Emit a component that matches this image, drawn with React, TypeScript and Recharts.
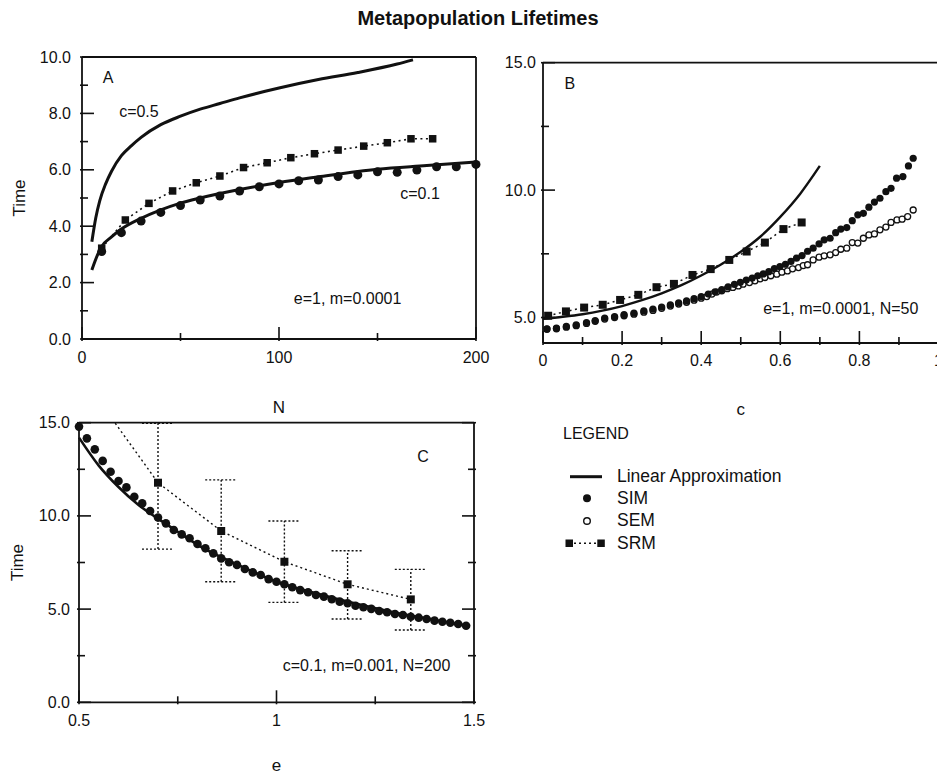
import React from 'react';
import { ComposedChart, Line, Scatter, XAxis, YAxis, ErrorBar, ReferenceDot } from 'recharts';

const FONT = '"Liberation Sans", Arial, Helvetica, sans-serif';
const INK = '#111';

// ---- A: lifetime against number of patches N (e=1, m=0.0001)
const aLinearC05: [number, number][] = [
  [5, 3.45], [7, 4.3], [9, 4.9], [12, 5.5], [15, 5.95], [20, 6.5], [25, 6.85], [30, 7.15],
  [40, 7.6], [50, 7.9], [60, 8.15], [70, 8.35], [80, 8.55], [100, 8.9], [120, 9.2],
  [140, 9.45], [160, 9.75], [168, 9.9],
];
const aLinearC01: [number, number][] = [
  [5, 2.45], [8, 3.0], [10, 3.28], [15, 3.62], [20, 3.9], [30, 4.28], [40, 4.58], [50, 4.82],
  [60, 5.0], [80, 5.3], [100, 5.55], [120, 5.75], [150, 6.02], [175, 6.15], [200, 6.28],
];
const aSimN = [10, 20, 30, 40, 50, 60, 70, 80, 90, 100, 110, 120, 130, 140, 150, 160, 170, 180, 190, 200];
const aSimT = [3.1, 3.77, 4.18, 4.49, 4.73, 4.93, 5.07, 5.25, 5.4, 5.5, 5.61, 5.64, 5.76, 5.82, 5.93, 5.91, 5.99, 6.11, 6.11, 6.19];
const aSrmN = [10, 22, 34, 46, 58, 70, 82, 94, 106, 118, 130, 143, 155, 167, 178];
const aSrmT = [3.22, 4.22, 4.81, 5.25, 5.54, 5.78, 6.08, 6.25, 6.43, 6.57, 6.7, 6.84, 6.96, 7.1, 7.1];
const aYTicks = [0, 1, 2, 3, 4, 5, 6, 7, 8, 9, 10];
const aYMajor = [0, 2, 4, 6, 8, 10];
const aXTicks = [0, 50, 100, 150, 200];
const aXMajor = [0, 100, 200];

// ---- B: lifetime against colonisation rate c (e=1, m=0.0001, N=50)
const bLinear: [number, number][] = [
  [0, 4.95], [0.05, 5.03], [0.1, 5.13], [0.15, 5.27], [0.2, 5.45], [0.25, 5.68], [0.3, 5.95],
  [0.35, 6.27], [0.4, 6.65], [0.45, 7.08], [0.5, 7.58], [0.55, 8.18], [0.6, 8.95], [0.65, 9.85], [0.7, 10.95],
];
const bSim: [number, number][] = [
  [0.01, 4.56], [0.034, 4.58], [0.059, 4.65], [0.084, 4.71], [0.11, 4.8], [0.132, 4.88], [0.156, 4.98],
  [0.181, 5.04], [0.205, 5.11], [0.23, 5.17], [0.255, 5.26], [0.278, 5.33], [0.3, 5.41], [0.322, 5.5],
  [0.343, 5.58], [0.363, 5.65], [0.382, 5.74], [0.4, 5.82], [0.418, 5.92], [0.435, 6.01], [0.452, 6.1],
  [0.468, 6.2], [0.484, 6.3], [0.499, 6.38], [0.514, 6.47], [0.529, 6.55], [0.543, 6.64], [0.557, 6.71],
  [0.571, 6.8], [0.585, 6.92], [0.599, 7.0], [0.613, 7.09], [0.627, 7.2], [0.641, 7.33], [0.655, 7.43],
  [0.669, 7.6], [0.683, 7.72], [0.698, 7.89], [0.711, 8.05], [0.726, 8.11], [0.74, 8.33], [0.753, 8.47],
  [0.768, 8.53], [0.782, 8.8], [0.796, 9.03], [0.81, 9.09], [0.824, 9.33], [0.838, 9.53], [0.852, 9.68],
  [0.867, 9.94], [0.88, 10.07], [0.894, 10.47], [0.91, 10.53], [0.924, 10.95], [0.936, 11.25],
];
const bSem: [number, number][] = [
  [0.01, 4.54], [0.034, 4.56], [0.059, 4.62], [0.084, 4.68], [0.11, 4.77], [0.132, 4.85], [0.156, 4.94],
  [0.181, 5.0], [0.205, 5.07], [0.23, 5.13], [0.255, 5.21], [0.278, 5.28], [0.3, 5.36], [0.322, 5.45],
  [0.343, 5.53], [0.363, 5.6], [0.382, 5.68], [0.4, 5.76], [0.414, 5.82], [0.427, 5.92], [0.439, 6.0],
  [0.452, 6.05], [0.466, 6.13], [0.48, 6.18], [0.494, 6.24], [0.506, 6.31], [0.522, 6.37], [0.536, 6.44],
  [0.549, 6.52], [0.561, 6.57], [0.576, 6.64], [0.591, 6.7], [0.604, 6.78], [0.618, 6.83], [0.631, 6.91],
  [0.646, 6.96], [0.658, 7.04], [0.669, 7.07], [0.683, 7.26], [0.698, 7.37], [0.711, 7.42], [0.726, 7.46],
  [0.74, 7.55], [0.753, 7.68], [0.768, 7.72], [0.782, 7.94], [0.796, 7.92], [0.81, 8.11], [0.824, 8.24],
  [0.838, 8.28], [0.852, 8.44], [0.867, 8.55], [0.88, 8.73], [0.895, 8.83], [0.908, 8.86], [0.922, 8.96],
  [0.936, 9.22],
];
const bSrmC = [0.013, 0.058, 0.104, 0.151, 0.195, 0.241, 0.287, 0.331, 0.378, 0.424, 0.471, 0.515, 0.561, 0.608, 0.654];
const bSrmT = [5.07, 5.24, 5.39, 5.5, 5.69, 5.89, 6.19, 6.32, 6.67, 6.9, 7.26, 7.59, 7.94, 8.47, 8.73];
const bYTicks = [5, 7.5, 10, 12.5, 15];
const bYMajor = [5, 10, 15];
const bXTicks = [0, 0.1, 0.2, 0.3, 0.4, 0.5, 0.6, 0.7, 0.8, 0.9, 1];
const bXMajor = [0, 0.2, 0.4, 0.6, 0.8, 1];

// ---- C: lifetime against extinction rate e (c=0.1, m=0.001, N=200)
const cLinear: [number, number][] = [
  [0.5, 14.2], [0.55, 12.7], [0.6, 11.55], [0.65, 10.6], [0.7, 9.85], [0.75, 9.15], [0.8, 8.45],
  [0.9, 7.4], [1.0, 6.47], [1.1, 5.85], [1.2, 5.3], [1.3, 4.82], [1.4, 4.42], [1.49, 4.09],
];
const cSimE = [
  0.5, 0.52, 0.54, 0.56, 0.58, 0.6, 0.62, 0.64, 0.66, 0.68, 0.7, 0.72, 0.74, 0.76, 0.78, 0.8, 0.82,
  0.84, 0.86, 0.88, 0.9, 0.92, 0.94, 0.96, 0.98, 1.0, 1.02, 1.04, 1.06, 1.08, 1.1, 1.12, 1.14, 1.16,
  1.18, 1.2, 1.22, 1.24, 1.26, 1.28, 1.3, 1.32, 1.34, 1.36, 1.38, 1.4, 1.42, 1.44, 1.46, 1.48,
];
const cSimT = [
  14.79, 14.16, 13.57, 12.95, 12.37, 11.87, 11.53, 11.03, 10.67, 10.26, 9.91, 9.6, 9.24, 9.01, 8.8,
  8.49, 8.26, 7.99, 7.72, 7.51, 7.37, 7.15, 6.97, 6.83, 6.61, 6.47, 6.33, 6.17, 6.02, 5.9, 5.76, 5.67,
  5.53, 5.4, 5.31, 5.18, 5.1, 5.01, 4.9, 4.83, 4.74, 4.68, 4.59, 4.54, 4.47, 4.38, 4.32, 4.27, 4.2, 4.11,
];
// first SRM run sits above the frame; only its connecting segment shows
const cSrmE = [0.54, 0.7, 0.86, 1.02, 1.18, 1.34];
const cSrmT = [16.5, 11.78, 9.19, 7.54, 6.33, 5.52];
const cSrmHigh = [null, 14.97, 11.93, 9.73, 8.13, 7.13];
const cSrmLow = [null, 8.22, 6.47, 5.36, 4.47, 3.88];
const cYTicks = [0, 2.5, 5, 7.5, 10, 12.5, 15];
const cYMajor = [0, 5, 10, 15];
const cXTicks = [0.5, 0.75, 1, 1.25, 1.5];
const cXMajor = [0.5, 1, 1.5];

const pairs = (rows: [number, number][]) => rows.map(([x, y]) => ({ x, y }));
const zip = (xs: number[], ys: number[]) => xs.map((x, i) => ({ x, y: ys[i] }));

const cSrm = cSrmE.map((x, i) => {
  const hi = cSrmHigh[i];
  const lo = cSrmLow[i];
  return { x, y: cSrmT[i], err: hi == null || lo == null ? null : [cSrmT[i] - lo, hi - cSrmT[i]] };
});

type Side = 'left' | 'right' | 'top' | 'bottom';

// inward tick marks on all four frame sides, labels only on left/bottom majors
const frameTick = (side: Side, major: number[], fmt?: (v: number) => string, gap = 8) => (p: any) => {
  const v = p.payload.value as number;
  const big = major.some((m) => Math.abs(m - v) < 1e-6);
  const len = big ? 14 : 8;
  const dx = side === 'left' ? len : side === 'right' ? -len : 0;
  const dy = side === 'bottom' ? -len : side === 'top' ? len : 0;
  return (
    <g>
      <line x1={p.x} y1={p.y} x2={p.x + dx} y2={p.y + dy} stroke={INK} strokeWidth={1.6} />
      {big && fmt && side === 'left' && (
        <text x={p.x - gap} y={p.y} textAnchor="end" dominantBaseline="central" fontSize={16} fill={INK}>
          {fmt(v)}
        </text>
      )}
      {big && fmt && side === 'bottom' && (
        <text x={p.x} y={p.y + gap} textAnchor="middle" dominantBaseline="central" fontSize={16} fill={INK}>
          {fmt(v)}
        </text>
      )}
    </g>
  );
};

const disc = (r: number) => (p: any) => <circle cx={p.cx} cy={p.cy} r={r} fill={INK} />;
const ring = (r: number) => (p: any) => (
  <circle cx={p.cx} cy={p.cy} r={r} fill="#fff" stroke={INK} strokeWidth={1.3} />
);
const block = (s: number) => (p: any) => (
  <rect key={`sq-${p.index}`} x={p.cx - s / 2} y={p.cy - s / 2} width={s} height={s} fill={INK} />
);

const axisLine = { stroke: INK, strokeWidth: 1.8 };
const oneDecimal = (v: number) => v.toFixed(1);
const plain = (v: number) => String(v);

const note = (value: string, size = 16) => ({ value, position: 'center' as const, fontSize: size, fill: INK });

const timeLabel = (offset: number) => ({
  value: 'Time',
  angle: -90,
  position: 'insideLeft' as const,
  offset,
  fontSize: 17,
  fill: INK,
  style: { textAnchor: 'middle' },
});

const PanelA = () => (
  <ComposedChart width={500} height={380} margin={{ top: 7, right: 14, left: 22, bottom: 5 }}>
    <XAxis dataKey="x" type="number" domain={[0, 200]} ticks={aXTicks} interval={0} height={76}
      tickSize={0} tickLine={false} axisLine={axisLine} tick={frameTick('bottom', aXMajor, plain, 16)}
      label={{ value: 'N', position: 'insideBottom', offset: 2, fontSize: 17, fill: INK }} />
    <XAxis xAxisId="t" orientation="top" type="number" domain={[0, 200]} ticks={aXTicks} interval={0}
      height={10} tickSize={0} tickLine={false} axisLine={axisLine} tick={frameTick('top', aXMajor)} />
    <YAxis type="number" domain={[0, 10]} ticks={aYTicks} interval={0} width={60} tickSize={0}
      tickLine={false} axisLine={axisLine} tick={frameTick('left', aYMajor, oneDecimal, 9)}
      label={timeLabel(-3)} />
    <YAxis yAxisId="r" orientation="right" type="number" domain={[0, 10]} ticks={aYTicks} interval={0}
      width={10} tickSize={0} tickLine={false} axisLine={axisLine} tick={frameTick('right', aYMajor)} />
    <Line data={pairs(aLinearC05)} dataKey="y" type="monotone" stroke={INK} strokeWidth={3} dot={false} isAnimationActive={false} />
    <Line data={pairs(aLinearC01)} dataKey="y" type="monotone" stroke={INK} strokeWidth={3} dot={false} isAnimationActive={false} />
    <Line data={zip(aSrmN, aSrmT)} dataKey="y" type="linear" stroke={INK} strokeWidth={1.6}
      strokeDasharray="2 3.5" dot={block(7.5)} isAnimationActive={false} />
    <Scatter data={zip(aSimN, aSimT)} dataKey="y" shape={disc(4.5)} isAnimationActive={false} />
    <ReferenceDot x={13.2} y={9.27} r={0} stroke="none" label={note('A')} />
    <ReferenceDot x={28.9} y={8.06} r={0} stroke="none" label={note('c=0.5')} />
    <ReferenceDot x={171.6} y={5.18} r={0} stroke="none" label={note('c=0.1')} />
    <ReferenceDot x={134.8} y={1.45} r={0} stroke="none" label={note('e=1, m=0.0001')} />
  </ComposedChart>
);

const PanelB = () => (
  <ComposedChart width={460} height={380} margin={{ top: 12.7, right: 11.5, left: 3, bottom: 2 }}>
    <XAxis dataKey="x" type="number" domain={[0, 1]} ticks={bXTicks} interval={0} height={75}
      tickSize={0} tickLine={false} axisLine={axisLine} tick={frameTick('bottom', bXMajor, plain, 15)}
      label={{ value: 'c', position: 'insideBottom', offset: 3.5, fontSize: 17, fill: INK }} />
    <XAxis xAxisId="t" orientation="top" type="number" domain={[0, 1]} ticks={bXTicks} interval={0}
      height={10} tickSize={0} tickLine={false} axisLine={axisLine} tick={frameTick('top', bXMajor)} />
    <YAxis type="number" domain={[4, 15]} ticks={bYTicks} interval={0} width={40} tickSize={0}
      tickLine={false} axisLine={axisLine} tick={frameTick('left', bYMajor, oneDecimal, 5)} />
    <YAxis yAxisId="r" orientation="right" type="number" domain={[4, 15]} ticks={bYTicks} interval={0}
      width={10} tickSize={0} tickLine={false} axisLine={axisLine} tick={frameTick('right', bYTicks)} />
    <Line data={pairs(bLinear)} dataKey="y" type="monotone" stroke={INK} strokeWidth={2.4} dot={false} isAnimationActive={false} />
    <Line data={zip(bSrmC, bSrmT)} dataKey="y" type="linear" stroke={INK} strokeWidth={1.5}
      strokeDasharray="2 3.5" dot={block(8)} isAnimationActive={false} />
    <Scatter data={pairs(bSem)} dataKey="y" shape={ring(3)} isAnimationActive={false} />
    <Scatter data={pairs(bSim)} dataKey="y" shape={disc(3.6)} isAnimationActive={false} />
    <ReferenceDot x={0.068} y={14.2} r={0} stroke="none" label={note('B')} />
    <ReferenceDot x={0.753} y={5.38} r={0} stroke="none" label={note('e=1, m=0.0001, N=50')} />
  </ComposedChart>
);

const PanelC = () => (
  <ComposedChart width={500} height={378} margin={{ top: 12.7, right: 16, left: 19, bottom: 3.7 }}>
    <XAxis dataKey="x" type="number" domain={[0.5, 1.5]} ticks={cXTicks} interval={0} height={72}
      tickSize={0} tickLine={false} axisLine={axisLine} tick={frameTick('bottom', cXMajor, plain, 16)}
      label={{ value: 'e', position: 'insideBottom', offset: 3.3, fontSize: 17, fill: INK }} />
    <XAxis xAxisId="t" orientation="top" type="number" domain={[0.5, 1.5]} ticks={cXTicks} interval={0}
      height={10} tickSize={0} tickLine={false} axisLine={axisLine} tick={frameTick('top', cXMajor)} />
    <YAxis type="number" domain={[0, 15]} ticks={cYTicks} interval={0} width={60} tickSize={0}
      tickLine={false} axisLine={axisLine} tick={frameTick('left', cYMajor, oneDecimal, 7)}
      label={timeLabel(-2.3)} />
    <YAxis yAxisId="r" orientation="right" type="number" domain={[0, 15]} allowDataOverflow ticks={cYTicks}
      interval={0} width={10} tickSize={0} tickLine={false} axisLine={axisLine} tick={frameTick('right', cYMajor)} />
    <Line data={pairs(cLinear)} dataKey="y" type="monotone" stroke={INK} strokeWidth={2.6} dot={false} isAnimationActive={false} />
    <Line yAxisId="r" data={cSrm} dataKey="y" type="linear" stroke={INK} strokeWidth={1.4}
      strokeDasharray="2 3" dot={block(8)} isAnimationActive={false}>
      <ErrorBar dataKey="err" direction="y" width={16} stroke={INK} strokeWidth={1.4} strokeDasharray="2 2" />
    </Line>
    <Scatter data={zip(cSimE, cSimT)} dataKey="y" shape={disc(4.3)} isAnimationActive={false} />
    <ReferenceDot x={1.371} y={13.18} r={0} stroke="none" label={note('C')} />
    <ReferenceDot x={1.228} y={2.0} r={0} stroke="none" label={note('c=0.1, m=0.001, N=200')} />
  </ComposedChart>
);

const Legend = () => (
  <g fill={INK}>
    <text x={563} y={433} fontSize={16} dominantBaseline="central">LEGEND</text>
    <line x1={570} x2={602} y1={476.7} y2={476.7} stroke={INK} strokeWidth={3} />
    <text x={617} y={476} fontSize={17.5} dominantBaseline="central">Linear Approximation</text>
    <circle cx={587} cy={498.3} r={4} />
    <text x={617} y={498} fontSize={17.5} dominantBaseline="central">SIM</text>
    <circle cx={587} cy={521} r={3.3} fill="#fff" stroke={INK} strokeWidth={1.4} />
    <text x={617} y={520} fontSize={17.5} dominantBaseline="central">SEM</text>
    <rect x={565.5} y={539.5} width={7.5} height={7.5} />
    <rect x={597.3} y={539.5} width={7.5} height={7.5} />
    <line x1={574} x2={596} y1={543.3} y2={543.3} stroke={INK} strokeWidth={1.5} strokeDasharray="2 3" />
    <text x={617} y={543} fontSize={17.5} dominantBaseline="central">SRM</text>
  </g>
);

export default function App() {
  return (
    <div style={{ position: 'absolute', left: 0, top: 0, width: 937, height: 778, overflow: 'hidden', background: '#fff', fontFamily: FONT }}>
      <div style={{ position: 'absolute', left: 0, top: 40 }}><PanelA /></div>
      <div style={{ position: 'absolute', left: 500, top: 40 }}><PanelB /></div>
      <div style={{ position: 'absolute', left: 0, top: 400 }}><PanelC /></div>
      <svg width={937} height={778} style={{ position: 'absolute', left: 0, top: 0, pointerEvents: 'none' }}>
        <text x={478} y={18} textAnchor="middle" dominantBaseline="central" fontSize={20} fontWeight="bold" fill={INK}>
          Metapopulation Lifetimes
        </text>
        <Legend />
      </svg>
    </div>
  );
}
